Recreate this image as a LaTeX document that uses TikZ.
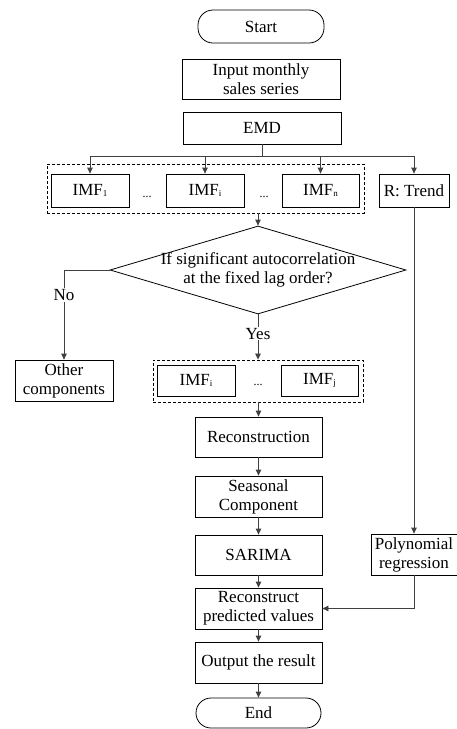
\documentclass[tikz,border=0pt]{standalone}
\usepackage{fontspec}
\setmainfont{Liberation Serif}
\usetikzlibrary{arrows.meta,shapes.geometric}
\newcommand{\boxfont}{\fontsize{17}{19}\selectfont}
\newcommand{\imfidx}[1]{\raisebox{-1pt}{\fontsize{9}{9}\selectfont #1}}
\newcommand{\imfdots}{{\fontsize{12}{12}\selectfont ...}}
\begin{document}
\begin{tikzpicture}[
  x=1pt,y=-1pt,>={Triangle[length=6pt,width=5.5pt]},
  box/.style={draw,line width=0.8pt,align=center,inner sep=0pt,font=\boxfont},
  term/.style={box,rounded corners=15pt},
  decision/.style={draw,line width=0.8pt,diamond,inner sep=0pt,
    minimum width=296pt,minimum height=88pt},
  group/.style={draw,line width=0.9pt,densely dashed,inner sep=0pt},
  link/.style={line width=0.8pt,draw=black!75},
  every node/.style={font=\boxfont}
]
  \useasboundingbox (0,0) rectangle (457,729);

  % main column
  \node[term,minimum width=126pt,minimum height=33pt] (start) at (261,26.5) {Start};
  \node[box,minimum width=158pt,minimum height=40pt] (input) at (261,79)
    {Input monthly\\sales series};
  \node[box,minimum width=158pt,minimum height=32pt] (emd) at (262,128) {EMD};

  % decomposition
  \node[group,minimum width=317pt,minimum height=49pt] (grp1) at (205.5,188.5) {};
  \node[box,minimum width=78pt,minimum height=33pt] (imf1) at (90,190.5) {IMF\imfidx{1}};
  \node[box,minimum width=78pt,minimum height=33pt] (imfi) at (205,190.5) {IMF\imfidx{i}};
  \node[box,minimum width=77pt,minimum height=33pt] (imfn) at (320.5,190.5) {IMF\imfidx{n}};
  \node (dotsa) at (147,197) {\imfdots};
  \node (dotsb) at (264,197) {\imfdots};
  \node[box,minimum width=70pt,minimum height=33pt] (trend) at (414,190.5) {R: Trend};

  \coordinate (split) at (262,156);
  \draw[link] (emd) -- (split);
  \draw[link,->] (split) -| (imf1);
  \draw[link,->] (split) -| (imfi);
  \draw[link,->] (split) -| (imfn);
  \draw[link,->] (split) -| (trend);

  % test
  \node[decision] (dec) at (258,270) {};
  \node[align=center] (dectext) at (dec) {If significant autocorrelation\\at the fixed lag order?};
  \draw[link,->] (dec.north |- grp1.south) -- (dec.north);

  \node[box,minimum width=98pt,minimum height=41pt] (other) at (64,380.5)
    {Other\\components};
  \draw[link,->] (dec.west) -| node[pos=0.64,fill=white,inner sep=1pt] {No} (other);

  \node[group,minimum width=210pt,minimum height=42pt] (grp2) at (258,381) {};
  \node[box,minimum width=78pt,minimum height=31pt] (imfsel) at (196,380.5) {IMF\imfidx{i}};
  \node[box,minimum width=77pt,minimum height=31pt] (imfj) at (319.5,380.5) {IMF\imfidx{j}};
  \node (dotsc) at (258,385) {\imfdots};
  \draw[link,->] (dec.south) -- node[pos=0.43,fill=white,inner sep=1pt] {Yes} (grp2);

  % forecasting
  \node[box,minimum width=127pt,minimum height=40pt] (recon) at (258.5,437) {Reconstruction};
  \node[box,minimum width=127pt,minimum height=41pt] (season) at (258.5,496.5)
    {Seasonal\\Component};
  \node[box,minimum width=127pt,minimum height=40pt] (sarima) at (258.5,555) {SARIMA};
  \node[box,minimum width=127pt,minimum height=41pt] (pred) at (258.5,608.5)
    {Reconstruct\\predicted values};
  \node[box,minimum width=127pt,minimum height=41pt] (output) at (258.5,662.5)
    {Output the result};
  \node[term,minimum width=125pt,minimum height=30pt] (finish) at (258.5,713) {End};
  \node[box,minimum width=86pt,minimum height=41pt] (poly) at (414,554.5)
    {Polynomial\\regression};

  \draw[link,->] (grp2.south -| recon.north) -- (recon);
  \draw[link,->] (recon) -- (season);
  \draw[link,->] (season) -- (sarima);
  \draw[link,->] (sarima) -- (pred);
  \draw[link,->] (pred) -- (output);
  \draw[link,->] (output) -- (finish);
  \draw[link,->] (trend) -- (poly);
  \draw[link,->] (poly) |- (pred);
\end{tikzpicture}
\end{document}
